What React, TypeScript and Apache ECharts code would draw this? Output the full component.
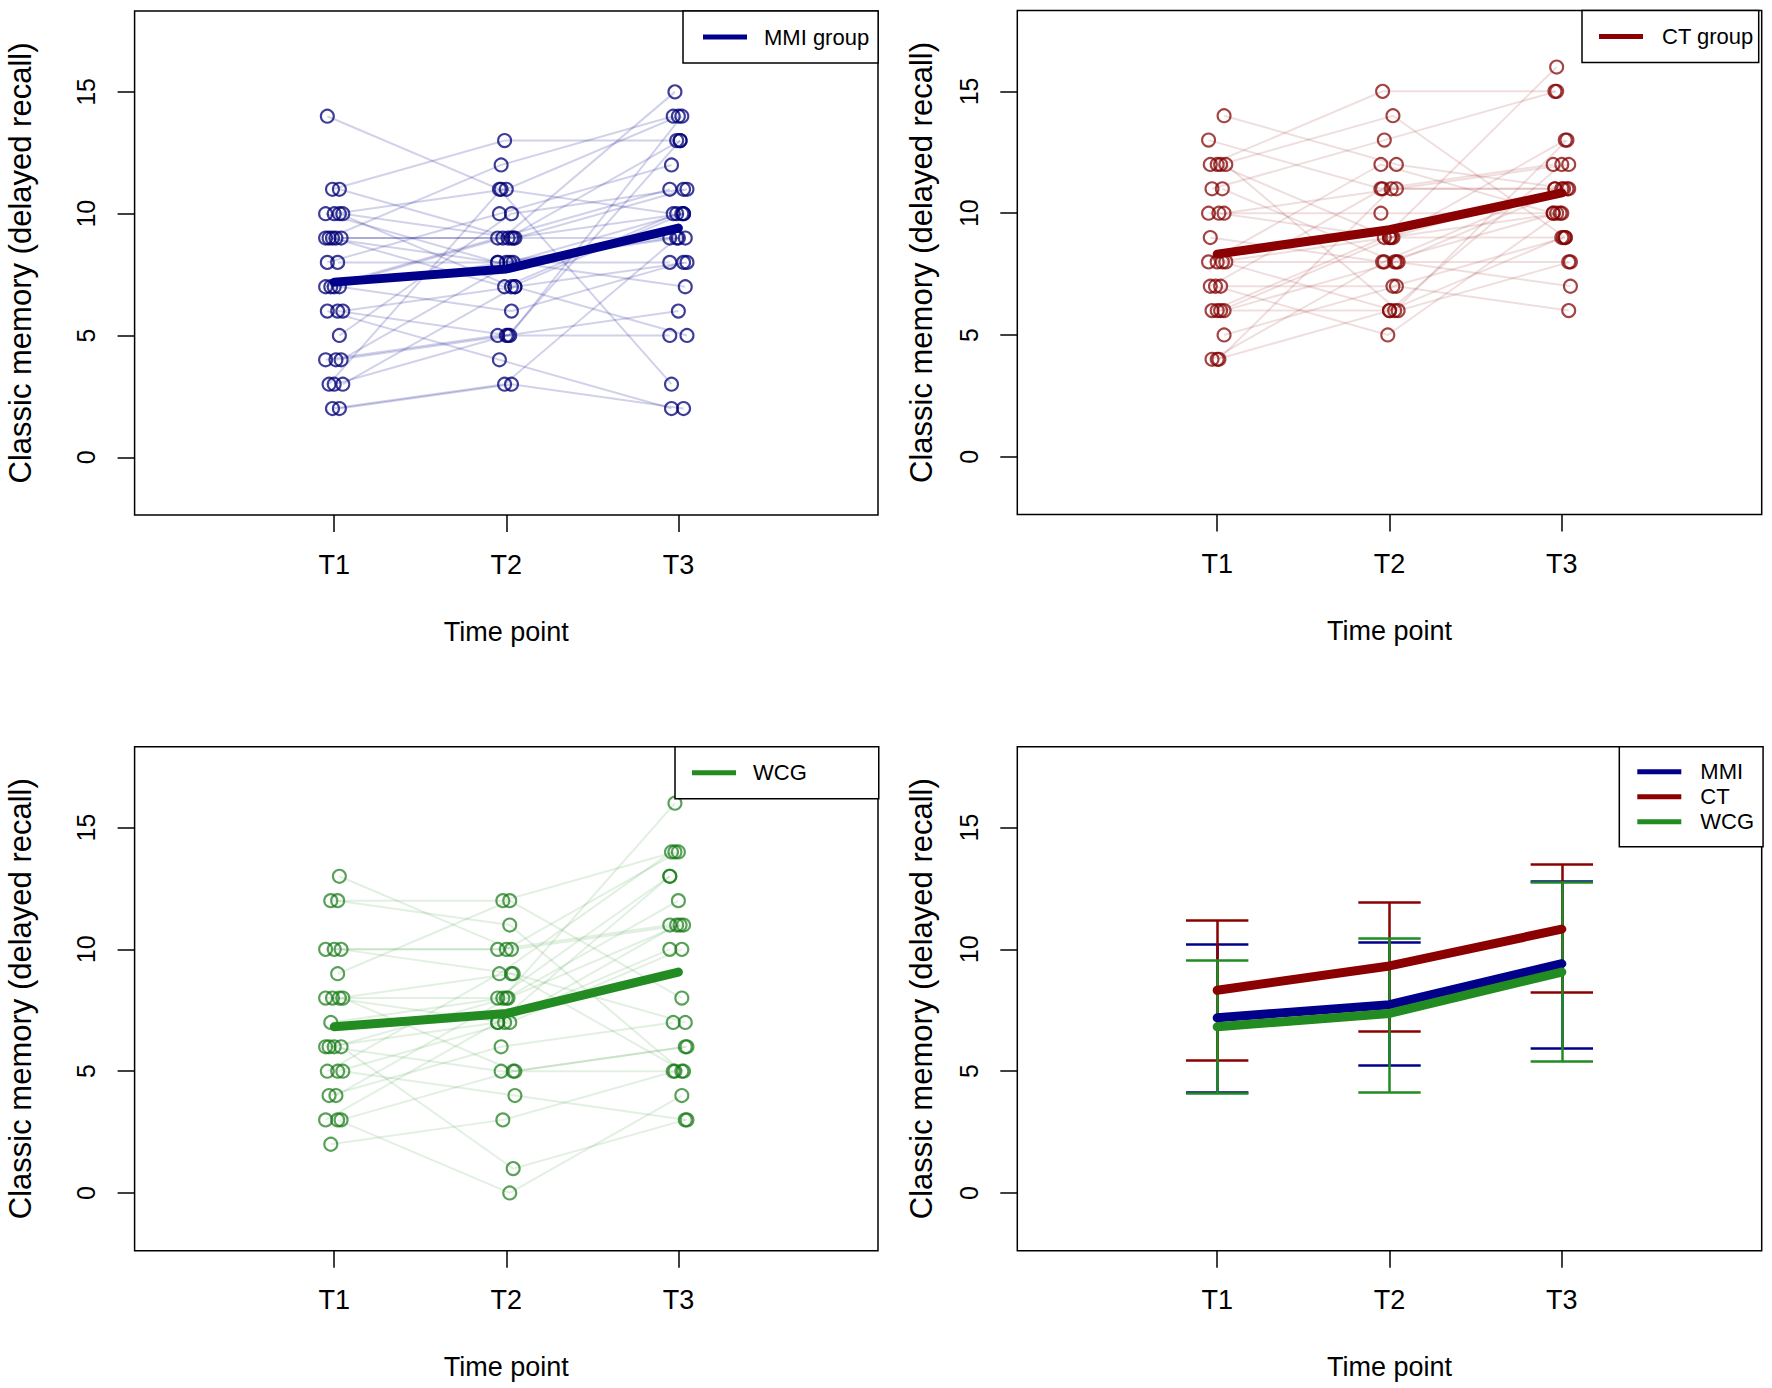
import React, { useEffect, useRef } from "react";
import * as echarts from "echarts";

// ---------- data ----------
const timePoints = ["T1", "T2", "T3"];
const timeValues = [1, 2, 3];
const yTicks = [0, 5, 10, 15];

// MMI group, one entry per participant
const mmiT1 = [14, 11, 11, 10, 10, 10, 10, 9, 9, 9, 9, 9, 8, 8, 7, 7, 7, 7, 6, 6, 6, 5, 4, 4, 4, 3, 3, 3, 2, 2];
const mmiT2 = [11, 9, 13, 9, 8, 11, 7, 12, 9, 8, 9, 7, 10, 8, 9, 6, 8, 9, 5, 4, 7, 10, 5, 5, 8, 11, 5, 7, 3, 3];
const mmiT3 = [3, 10, 13, 11, 9, 14, 10, 14, 9, 8, 13, 10, 12, 10, 11, 8, 9, 15, 14, 2, 5, 11, 5, 13, 7, 10, 6, 8, 9, 2];
const mmiJitter = [-0.04, 0.03, -0.01, 0.05, -0.05, 0.0, 0.03, -0.03, 0.04, -0.05, 0.01, -0.01, -0.04, 0.02, -0.05, 0.03, 0.0, -0.02, 0.02, -0.04, 0.05, 0.03, -0.05, 0.01, 0.04, -0.03, 0.0, 0.05, -0.01, 0.03];

// CT group
const ctT1 = [14, 13, 12, 12, 12, 12, 11, 11, 10, 10, 10, 9, 8, 8, 8, 8, 7, 7, 7, 6, 6, 6, 6, 5, 4, 4, 4];
const ctT2 = [12, 11, 15, 14, 9, 6, 13, 8, 10, 9, 11, 8, 12, 9, 6, 8, 11, 7, 5, 9, 8, 6, 9, 7, 8, 11, 6];
const ctT3 = [11, 12, 15, 9, 10, 8, 15, 11, 10, 9, 12, 11, 10, 11, 13, 7, 11, 9, 10, 16, 8, 12, 13, 6, 10, 11, 9];
const ctJitter = [0.04, -0.05, -0.04, 0.02, 0.0, 0.05, -0.03, 0.03, -0.05, 0.01, 0.04, -0.04, -0.05, 0.0, 0.03, 0.05, -0.04, 0.02, -0.01, -0.03, 0.04, 0.0, 0.02, 0.04, -0.03, 0.01, 0.0];

// WCG
const wcgT1 = [13, 12, 12, 10, 10, 10, 9, 8, 8, 8, 8, 7, 6, 6, 6, 6, 5, 5, 5, 4, 4, 3, 3, 3, 2];
const wcgT2 = [10, 12, 11, 10, 10, 9, 12, 8, 7, 9, 5, 8, 7, 1, 8, 5, 9, 7, 4, 8, 6, 0, 7, 5, 3];
const wcgT3 = [11, 14, 5, 11, 14, 7, 8, 13, 11, 5, 6, 16, 10, 3, 12, 5, 14, 10, 3, 11, 7, 4, 13, 6, 5];
const wcgJitter = [0.03, -0.02, 0.02, -0.05, 0.0, 0.04, 0.02, -0.05, -0.01, 0.03, 0.05, -0.02, -0.05, 0.04, 0.0, -0.03, -0.04, 0.02, 0.05, 0.01, -0.03, 0.02, -0.05, 0.04, -0.02];

// group means and mean +/- SD bounds
const mmiMean = [7.19, 7.73, 9.41];
const ctMean = [8.32, 9.32, 10.83];
const wcgMean = [6.82, 7.37, 9.07];
const mmiUpper = [10.2, 10.28, 12.79];
const mmiLower = [4.15, 5.24, 5.93];
const ctUpper = [11.2, 11.93, 13.49];
const ctLower = [5.43, 6.63, 8.22];
const wcgUpper = [9.56, 10.44, 12.75];
const wcgLower = [4.1, 4.14, 5.41];

// ---------- styling ----------
const FONT = '"Liberation Sans", Arial, Helvetica, sans-serif';
const X_MIN = -0.16;
const X_MAX = 4.16;
const Y_MIN = -2.37;
const Y_MAX = 18.32;
const CAP = 0.181;

const MMI_COLOR = "#00008B";
const CT_COLOR = "#8B0000";
const WCG_COLOR = "#228B22";

const GRIDS = [
  { left: 134.6, top: 11, width: 743.4, height: 504 },
  { left: 1017.3, top: 10.5, width: 744.4, height: 504 },
  { left: 134.6, top: 746.7, width: 743.4, height: 504 },
  { left: 1017.3, top: 746.7, width: 744.4, height: 504 },
];
const Y_NAME_GAP = [99, 80, 99, 80];

function buildOption() {
  const grid = GRIDS.map((g) => ({
    ...g,
    show: true,
    borderColor: "#000",
    borderWidth: 1.5,
    backgroundColor: "transparent",
    containLabel: false,
    outerBoundsMode: "none",
  }));

  const xAxis = GRIDS.map((_, i) => ({
    gridIndex: i,
    type: "value",
    position: "bottom",
    min: X_MIN,
    max: X_MAX,
    axisLine: { show: false, onZero: false },
    splitLine: { show: false },
    axisTick: {
      show: true,
      customValues: timeValues,
      length: 17,
      lineStyle: { color: "#000", width: 1.5 },
    },
    axisLabel: {
      customValues: timeValues,
      formatter: (v: number) => timePoints[Math.round(v) - 1] ?? "",
      margin: 36,
      fontSize: 27,
      color: "#000",
      fontFamily: FONT,
    },
    name: "Time point",
    nameLocation: "middle",
    nameGap: 103,
    nameTextStyle: { fontSize: 27, color: "#000", fontFamily: FONT },
  }));

  const yAxis = GRIDS.map((_, i) => ({
    gridIndex: i,
    type: "value",
    position: "left",
    min: Y_MIN,
    max: Y_MAX,
    axisLine: { show: false, onZero: false },
    splitLine: { show: false },
    axisTick: {
      show: true,
      customValues: yTicks,
      length: 17,
      lineStyle: { color: "#000", width: 1.5 },
    },
    axisLabel: {
      customValues: yTicks,
      rotate: 90,
      margin: 36,
      fontSize: 25,
      color: "#000",
      fontFamily: FONT,
    },
    name: "Classic memory (delayed recall)",
    nameLocation: "middle",
    nameGap: Y_NAME_GAP[i],
    nameTextStyle: { fontSize: 31, color: "#000", fontFamily: FONT },
  }));

  const series: any[] = [];

  const groupPanel = (
    idx: number,
    name: string,
    color: string,
    lineRgba: string,
    circleColor: string,
    t1: number[],
    t2: number[],
    t3: number[],
    jitter: number[],
    mean: number[]
  ) => {
    const cols = [t1, t2, t3];
    series.push({
      type: "lines",
      coordinateSystem: "cartesian2d",
      xAxisIndex: idx,
      yAxisIndex: idx,
      polyline: true,
      silent: true,
      lineStyle: { color: lineRgba, width: 2, opacity: 1 },
      data: t1.map((_, s) => ({
        coords: timeValues.map((t, k) => [t + jitter[s], cols[k][s]]),
      })),
    });
    const pts: number[][] = [];
    timeValues.forEach((t, k) => {
      cols[k].forEach((v, s) => pts.push([t + jitter[s], v]));
    });
    series.push({
      type: "scatter",
      xAxisIndex: idx,
      yAxisIndex: idx,
      silent: true,
      symbol: "circle",
      symbolSize: 13,
      itemStyle: { color: "rgba(0,0,0,0)", borderColor: circleColor, borderWidth: 2.1 },
      data: pts,
    });
    series.push({
      type: "line",
      name,
      xAxisIndex: idx,
      yAxisIndex: idx,
      silent: true,
      symbol: "none",
      color,
      itemStyle: { color },
      lineStyle: { color, width: 9, cap: "round", join: "round" },
      data: timeValues.map((t, k) => [t, mean[k]]),
    });
  };

  groupPanel(0, "MMI group", MMI_COLOR, "rgba(0,0,139,0.18)", "rgba(0,0,120,0.95)", mmiT1, mmiT2, mmiT3, mmiJitter, mmiMean);
  groupPanel(1, "CT group", CT_COLOR, "rgba(139,0,0,0.13)", "rgba(130,0,0,0.92)", ctT1, ctT2, ctT3, ctJitter, ctMean);
  groupPanel(2, "WCG", WCG_COLOR, "rgba(34,139,34,0.13)", "rgba(20,120,20,0.88)", wcgT1, wcgT2, wcgT3, wcgJitter, wcgMean);

  // summary panel
  const summary = [
    { name: "MMI", color: MMI_COLOR, mean: mmiMean, lo: mmiLower, hi: mmiUpper },
    { name: "CT", color: CT_COLOR, mean: ctMean, lo: ctLower, hi: ctUpper },
    { name: "WCG", color: WCG_COLOR, mean: wcgMean, lo: wcgLower, hi: wcgUpper },
  ];
  summary.forEach((g) => {
    series.push({
      type: "line",
      name: g.name,
      xAxisIndex: 3,
      yAxisIndex: 3,
      silent: true,
      symbol: "none",
      color: g.color,
      itemStyle: { color: g.color },
      lineStyle: { color: g.color, width: 9, cap: "round", join: "round" },
      data: timeValues.map((t, k) => [t, g.mean[k]]),
    });
  });
  summary.forEach((g) => {
    const segs: any[] = [];
    timeValues.forEach((t, k) => {
      segs.push({ coords: [[t, g.lo[k]], [t, g.hi[k]]] });
      segs.push({ coords: [[t - CAP, g.lo[k]], [t + CAP, g.lo[k]]] });
      segs.push({ coords: [[t - CAP, g.hi[k]], [t + CAP, g.hi[k]]] });
    });
    series.push({
      type: "lines",
      coordinateSystem: "cartesian2d",
      xAxisIndex: 3,
      yAxisIndex: 3,
      silent: true,
      lineStyle: { color: g.color, width: 2.5, opacity: 1 },
      data: segs,
    });
  });

  const legendBase = {
    orient: "vertical",
    icon: "rect",
    itemWidth: 44,
    itemHeight: 5,
    borderColor: "#000",
    borderWidth: 1.5,
    borderRadius: 0,
    backgroundColor: "#fff",
    selectedMode: false,
  };

  const legend = [
    {
      ...legendBase,
      left: 683,
      top: 11,
      padding: [15, 9, 15, 20],
      data: ["MMI group"],
      textStyle: { fontSize: 22, color: "#000", fontFamily: FONT, padding: [0, 0, 0, 12] },
    },
    {
      ...legendBase,
      left: 1582,
      top: 10.5,
      padding: [15, 5, 15, 17],
      data: ["CT group"],
      textStyle: { fontSize: 22, color: "#000", fontFamily: FONT, padding: [0, 0, 0, 14] },
    },
    {
      ...legendBase,
      left: 675,
      top: 746.7,
      padding: [15, 72, 15, 17],
      data: ["WCG"],
      textStyle: { fontSize: 22, color: "#000", fontFamily: FONT, padding: [0, 0, 0, 12] },
    },
    {
      ...legendBase,
      left: 1619.3,
      top: 746.7,
      padding: [14, 9, 14, 18],
      itemGap: 3,
      data: ["MMI", "CT", "WCG"],
      textStyle: { fontSize: 22, color: "#000", fontFamily: FONT, padding: [0, 0, 0, 14] },
    },
  ];

  return {
    animation: false,
    backgroundColor: "#fff",
    grid,
    xAxis,
    yAxis,
    legend,
    series,
  };
}

export default function App() {
  const ref = useRef<HTMLDivElement>(null);
  useEffect(() => {
    document.body.style.margin = "0";
    if (!ref.current) return;
    const chart = echarts.init(ref.current, undefined, { renderer: "svg" });
    chart.setOption(buildOption() as any);
    return () => chart.dispose();
  }, []);
  return <div ref={ref} style={{ width: 1772, height: 1388, background: "#fff" }} />;
}
